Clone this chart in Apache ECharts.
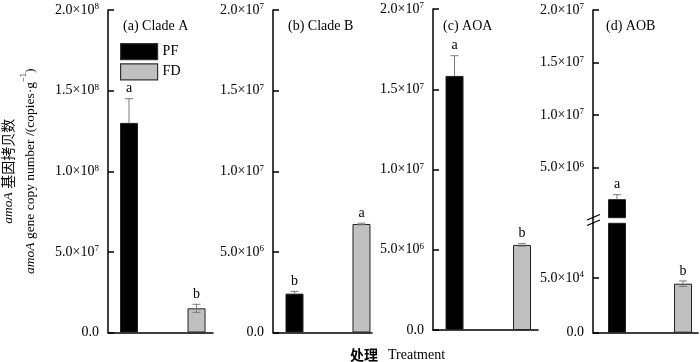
<!DOCTYPE html>
<html>
<head>
<meta charset="utf-8">
<script src="https://cdn.jsdelivr.net/npm/echarts@6/dist/echarts.min.js"></script>
<style>html,body{margin:0;padding:0;background:#fff}#c{width:700px;height:362px}</style>
</head>
<body>
<div id="c"></div>
<script>
// ---- data ----
const treatments = ['PF', 'FD'];
const xPos = [1, 2];
const cladeA = [1.30e8, 1.50e7];
const cladeAErr = [1.5e7, 2.5e6];
const cladeASig = ['a', 'b'];
const cladeB = [2.41e6, 6.73e6];
const cladeBErr = [1.4e5, 5e4];
const cladeBSig = ['b', 'a'];
const aoa = [1.583e7, 5.30e6];
const aoaErr = [1.26e6, 8e4];
const aoaSig = ['a', 'b'];
const aob = [2.0e6, 4.48e4];
const aobErr = [4.3e5, 2.5e3];
const aobSig = ['a', 'b'];
const panelTitles = ['(a) Clade A', '(b) Clade B', '(c) AOA', '(d) AOB'];
const ticksA = [0, 5e7, 1e8, 1.5e8, 2e8];
const ticksB = [0, 5e6, 1e7, 1.5e7, 2e7];
const ticksC = [0, 5e6, 1e7, 1.5e7, 2e7];
const ticksDUpper = [5e6, 1e7, 1.5e7, 2e7];
const ticksDLower = [0, 5e4];

const SERIF = '"Liberation Serif", "Times New Roman", serif';
const CJK = '"Noto Sans CJK SC", sans-serif';
const colors = {PF: '#000000', FD: '#c0c0c0'};

function sci(v) {
  if (v === 0) return '{m|0.0}';
  const exp = Math.floor(Math.log10(v) + 1e-9);
  const m = v / Math.pow(10, exp);
  return '{m|' + m.toFixed(1) + '×10}{s|' + exp + '}';
}
const labelRich = {
  m: {fontFamily: SERIF, fontSize: 14, color: '#000', lineHeight: 15},
  s: {fontFamily: SERIF, fontSize: 9, color: '#000', lineHeight: 9, verticalAlign: 'top'}
};

const grids = [
  {left: 108, top: 10, width: 105, height: 322.5},
  {left: 273, top: 10, width: 99, height: 322.5},
  {left: 433, top: 9, width: 105, height: 321},
  {left: 593, top: 10, width: 105, height: 207.7},
  {left: 593, top: 223.3, width: 105, height: 109.4}
].map(g => Object.assign(g, {outerBoundsMode: 'none', containLabel: false}));
const xRanges = [[0.689, 2.244], [0.679, 2.157], [0.681, 2.237], [0.636, 2.227], [0.636, 2.227]];

const xAxes = grids.map((g, i) => ({
  type: 'value', gridIndex: i, min: xRanges[i][0], max: xRanges[i][1],
  axisLine: {show: i !== 3, onZero: false, lineStyle: {color: '#000', width: 1.5}},
  axisTick: {show: false}, axisLabel: {show: false}, splitLine: {show: false}
}));

function yAxis(i, min, max, ticks, extra) {
  return Object.assign({
    type: 'value', gridIndex: i, min: min, max: max,
    axisLine: {show: true, onZero: false, lineStyle: {color: '#000', width: 1.5}},
    axisTick: {show: true, inside: true, length: 6, lineStyle: {color: '#000', width: 1.5}, customValues: ticks},
    axisLabel: {margin: 9, formatter: sci, rich: labelRich, customValues: ticks},
    splitLine: {show: false}
  }, extra || {});
}

const yAxes = [
  yAxis(0, 0, 2e8, ticksA, {
    name: '{i|amoA} {c|基因拷贝数}\n{i|amoA} {r|gene copy number /(copies·g}{s|−1}{r|)}',
    nameLocation: 'middle', nameRotate: 90, nameGap: 67,
    nameTextStyle: {
      fontFamily: SERIF, fontSize: 13.5, color: '#000', lineHeight: 22,
      rich: {
        i: {fontFamily: SERIF, fontSize: 13.5, fontStyle: 'italic', lineHeight: 22},
        c: {fontFamily: CJK, fontSize: 14, lineHeight: 22},
        r: {fontFamily: SERIF, fontSize: 13.5, lineHeight: 22},
        s: {fontFamily: SERIF, fontSize: 8.5, lineHeight: 8, verticalAlign: 'top'}
      }
    }
  }),
  yAxis(1, 0, 2e7, ticksB),
  yAxis(2, 0, 2e7, ticksC),
  yAxis(3, 2.38e5, 2e7, ticksDUpper),
  yAxis(4, 0, 1e5, ticksDLower)
];

function barSeries(name, gi, vals, idx) {
  const data = [];
  idx.forEach(k => data.push([xPos[k], vals[k]]));
  return {
    type: 'bar', name: name, xAxisIndex: gi, yAxisIndex: gi, barWidth: 18, barGap: '-100%',
    itemStyle: {color: colors[name], borderColor: '#222', borderWidth: 1},
    data: data, z: 2, animation: false
  };
}

function errSeries(gi, vals, errs, sig, idx) {
  const data = idx.map(k => [xPos[k], vals[k], errs[k], k]);
  return {
    type: 'custom', xAxisIndex: gi, yAxisIndex: gi, z: 5, animation: false, silent: true,
    data: data,
    renderItem: function (params, api) {
      const x = api.value(0), v = api.value(1), e = api.value(2), k = api.value(3);
      const c = api.coord([x, v]);
      const t = api.coord([x, v + e]);
      const b = api.coord([x, v - e]);
      const cap = 4;
      const col = '#7a7a7a';
      const children = [
        {type: 'line', shape: {x1: c[0], y1: c[1], x2: t[0], y2: t[1]}, style: {stroke: col, lineWidth: 1}},
        {type: 'line', shape: {x1: t[0] - cap, y1: t[1], x2: t[0] + cap, y2: t[1]}, style: {stroke: col, lineWidth: 1}}
      ];
      if (k === 1) {
        children.push({type: 'line', shape: {x1: c[0], y1: c[1], x2: b[0], y2: b[1]}, style: {stroke: col, lineWidth: 1}});
        children.push({type: 'line', shape: {x1: b[0] - cap, y1: b[1], x2: b[0] + cap, y2: b[1]}, style: {stroke: col, lineWidth: 1}});
      }
      children.push({type: 'text', x: t[0], y: t[1] - 3,
        style: {text: sig[k], fontFamily: SERIF, fontSize: 14, fill: '#000', align: 'center', verticalAlign: 'bottom'}});
      return {type: 'group', children: children};
    }
  };
}

const series = [
  barSeries('PF', 0, cladeA, [0]), barSeries('FD', 0, cladeA, [1]), errSeries(0, cladeA, cladeAErr, cladeASig, [0, 1]),
  barSeries('PF', 1, cladeB, [0]), barSeries('FD', 1, cladeB, [1]), errSeries(1, cladeB, cladeBErr, cladeBSig, [0, 1]),
  barSeries('PF', 2, aoa, [0]), barSeries('FD', 2, aoa, [1]), errSeries(2, aoa, aoaErr, aoaSig, [0, 1]),
  barSeries('PF', 3, aob, [0]), errSeries(3, aob, aobErr, aobSig, [0]),
  barSeries('PF', 4, aob, [0]), barSeries('FD', 4, aob, [1]), errSeries(4, aob, aobErr, aobSig, [1])
];

const titleLefts = [118, 283, 438, 601];
const titles = panelTitles.map((t, i) => ({
  text: t, left: titleLefts[i], top: 14,
  textStyle: {fontFamily: SERIF, fontSize: 14, fontWeight: 'normal', color: '#000'}
}));
titles.push({
  text: '{c|处理}  {e|Treatment}', left: 345, top: 341,
  textStyle: {fontWeight: 'normal', rich: {
    c: {fontFamily: CJK, fontSize: 14, fontWeight: 'bold', color: '#000'},
    e: {fontFamily: SERIF, fontSize: 14, fontWeight: 'normal', color: '#000'}
  }}
});

const chart = echarts.init(document.getElementById('c'), null, {renderer: 'canvas'});
chart.setOption({
  animation: false,
  backgroundColor: '#fff',
  title: titles,
  legend: {
    data: treatments, orient: 'vertical', left: 115, top: 38, itemWidth: 37, itemHeight: 16, itemGap: 3,
    icon: 'rect', itemStyle: {borderColor: '#333', borderWidth: 1.2},
    textStyle: {fontFamily: SERIF, fontSize: 14, color: '#000', padding: [0, 0, 0, 0]},
    selectedMode: false
  },
  grid: grids,
  xAxis: xAxes,
  yAxis: yAxes,
  series: series,
  graphic: [
    {type: 'line', shape: {x1: 593, y1: 217, x2: 593, y2: 224}, style: {stroke: '#000', lineWidth: 1.5}},
    {type: 'line', shape: {x1: 587, y1: 220, x2: 600, y2: 214.5}, style: {stroke: '#000', lineWidth: 1.3}},
    {type: 'line', shape: {x1: 587, y1: 225.5, x2: 600, y2: 220}, style: {stroke: '#000', lineWidth: 1.3}}
  ]
});
</script>
</body>
</html>
